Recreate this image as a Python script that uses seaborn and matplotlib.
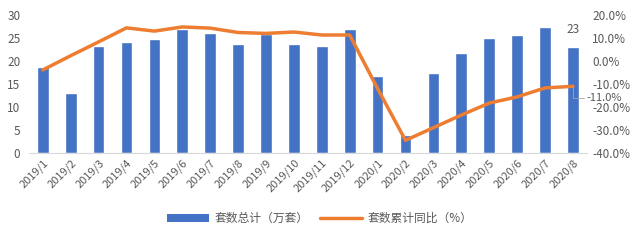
import numpy as np
import pandas as pd
import matplotlib
matplotlib.use("Agg")
import matplotlib.pyplot as plt
from matplotlib.ticker import FuncFormatter, FixedLocator
from matplotlib.patches import Patch
from matplotlib.lines import Line2D
import seaborn as sns

categories = ["2019/1", "2019/2", "2019/3", "2019/4", "2019/5", "2019/6", "2019/7",
              "2019/8", "2019/9", "2019/10", "2019/11", "2019/12", "2020/1", "2020/2",
              "2020/3", "2020/4", "2020/5", "2020/6", "2020/7", "2020/8"]
units_total = [18.6, 13.1, 23.3, 24.1, 24.8, 27.0, 26.1, 23.7, 25.9, 23.7, 23.3, 27.0,
               16.7, 3.9, 17.4, 21.7, 25.0, 25.7, 27.4, 23.0]
yoy_pct = [-3.9, 2.3, 8.3, 14.4, 13.0, 14.8, 14.3, 12.4, 12.0, 12.6, 11.3, 11.3,
           -12.0, -34.5, -29.0, -23.5, -18.3, -15.6, -11.7, -11.0]
legend_labels = ["套数总计（万套）", "套数累计同比（%）"]

sns.set_theme(style="white")
plt.rcParams["font.family"] = ["Noto Sans CJK SC", "DejaVu Sans"]

bar_color = "#4472C4"
line_color = "#ED7D31"
text_color = "#595959"
axis_color = "#D9D9D9"

df = pd.DataFrame({"cat": categories, "total": units_total, "yoy": yoy_pct})
df["pos"] = np.arange(len(df))

fig = plt.figure(figsize=(6.4, 2.4), dpi=100)
ax = fig.add_axes([0.045, 0.3625, 0.872, 0.575])

sns.barplot(data=df, x="cat", y="total", color=bar_color, width=0.42,
            saturation=1, ax=ax)
ax.set_xlim(-0.5, len(df) - 0.5)
ax.set_ylim(0, 30)
ax.set_yticks(range(0, 31, 5))
ax.set_xlabel("")
ax.set_ylabel("")
ax.tick_params(axis="y", labelsize=8.5, labelcolor=text_color, length=0, pad=6)
ax.tick_params(axis="x", labelsize=8, labelcolor=text_color, length=0, pad=3)
plt.setp(ax.get_xticklabels(), rotation=45, ha="right", rotation_mode="anchor")
# category separator ticks
ax.xaxis.set_minor_locator(FixedLocator(np.arange(-0.5, len(df), 1.0)))
ax.tick_params(axis="x", which="minor", length=4, color=axis_color, width=0.8, direction="out")
for s in ["top", "right", "left"]:
    ax.spines[s].set_visible(False)
ax.spines["bottom"].set_color(axis_color)
ax.spines["bottom"].set_linewidth(0.8)

ax2 = ax.twinx()
sns.lineplot(data=df, x="pos", y="yoy", color=line_color, linewidth=2.5, ax=ax2)
ax2.set_ylim(-40, 20)
ax2.set_yticks(range(-40, 21, 10))
ax2.yaxis.set_major_formatter(FuncFormatter(lambda v, p: f"{v:.1f}%"))
ax2.tick_params(axis="y", labelsize=8.5, labelcolor=text_color, length=0, pad=4)
ax2.set_xlim(-0.5, len(df) - 0.5)
ax2.set_ylabel("")
ax2.set_xlabel("")
for s in ["top", "right", "left", "bottom"]:
    ax2.spines[s].set_visible(False)

# data labels
last = len(df) - 1
ax.annotate(f"{units_total[-1]:.0f}", xy=(last, units_total[-1]), xytext=(0, 8),
            textcoords="offset points", ha="center", va="bottom", fontsize=8.5,
            color=text_color)
ax2.annotate(f"{yoy_pct[-1]:.1f}%", xy=(last, yoy_pct[-1]), xytext=(10, -8.5),
             textcoords="offset points", ha="left", va="center", fontsize=8,
             color=text_color,
             arrowprops=dict(arrowstyle="-", color="#A6A6A6", lw=0.6,
                             connectionstyle="angle,angleA=0,angleB=90,rad=0",
                             shrinkA=0, shrinkB=0))

handles = [Patch(facecolor=bar_color, edgecolor="none"),
           Line2D([0], [0], color=line_color, linewidth=2.5)]
fig.legend(handles, legend_labels, loc="center", bbox_to_anchor=(0.5, 0.09),
           ncol=2, frameon=False, fontsize=8.5, labelcolor=text_color,
           handlelength=3.5, handleheight=0.7, columnspacing=1.0, handletextpad=0.5)

fig.savefig("out.png", dpi=100)
